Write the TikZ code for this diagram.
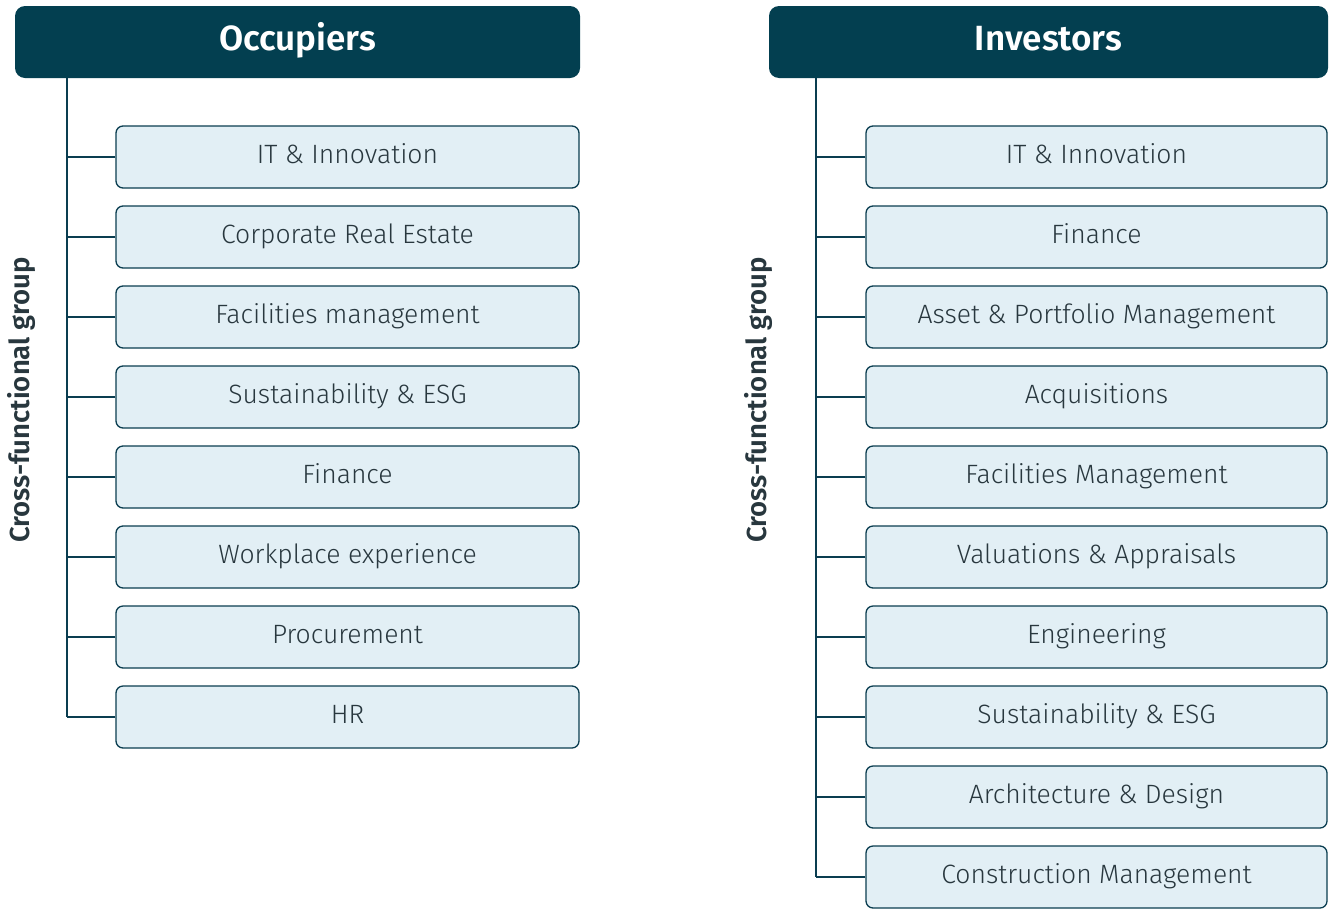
\documentclass[tikz,border=0pt]{standalone}
\usepackage{fontspec}
\setmainfont{Fira Sans}[UprightFont={* Light}, BoldFont={* SemiBold}]
\definecolor{hdr}{RGB}{3,63,80}
\definecolor{boxfill}{RGB}{226,239,245}
\definecolor{boxline}{RGB}{10,61,80}
\definecolor{txt}{RGB}{40,55,62}
\tikzset{
  header/.style={draw=none, fill=hdr, rounded corners=10pt, minimum height=72pt, text=white, font=\fontsize{35}{38}\selectfont\bfseries, inner sep=0pt, text height=25pt, text depth=8pt},
  item/.style={draw=boxline, line width=1.3pt, fill=boxfill, rounded corners=7pt, minimum height=62pt, inner sep=0pt, text=txt, font=\fontsize{26.5}{28}\selectfont, text height=19pt, text depth=6pt},
  conn/.style={draw=boxline, line width=1.4pt},
  side/.style={rotate=90, text=txt, font=\fontsize{27.5}{30}\selectfont\bfseries, inner sep=0pt}
}
\begin{document}
\begin{tikzpicture}[x=1pt,y=1pt]
\useasboundingbox (0,0) rectangle (1332,-908);
% left
\node[header, minimum width=565pt] (hl) at (297.5,-42) {Occupiers};
\node[side] (sl) at (21,-400) {Cross-functional group};
\coordinate (tl) at (67,-78);
\foreach \t [count=\i] in {IT \& Innovation, Corporate Real Estate, Facilities management, Sustainability \& ESG, Finance, Workplace experience, Procurement, HR}{
  \node[item, minimum width=463pt] (l\i) at (347.5,{-157-80*(\i-1)}) {\t};
  \draw[conn] (l\i.west) -- (l\i.west -| tl);
}
\draw[conn] (tl) -- (tl |- l8.west);
% right
\node[header, minimum width=559pt] (hr) at (1048.5,-42) {Investors};
\node[side] (sr) at (758,-400) {Cross-functional group};
\coordinate (tr) at (816,-78);
\foreach \t [count=\i] in {IT \& Innovation, Finance, Asset \& Portfolio Management, Acquisitions, Facilities Management, Valuations \& Appraisals, Engineering, Sustainability \& ESG, Architecture \& Design, Construction Management}{
  \node[item, minimum width=461pt] (r\i) at (1096.5,{-157-80*(\i-1)}) {\t};
  \draw[conn] (r\i.west) -- (r\i.west -| tr);
}
\draw[conn] (tr) -- (tr |- r10.west);
\end{tikzpicture}
\end{document}
